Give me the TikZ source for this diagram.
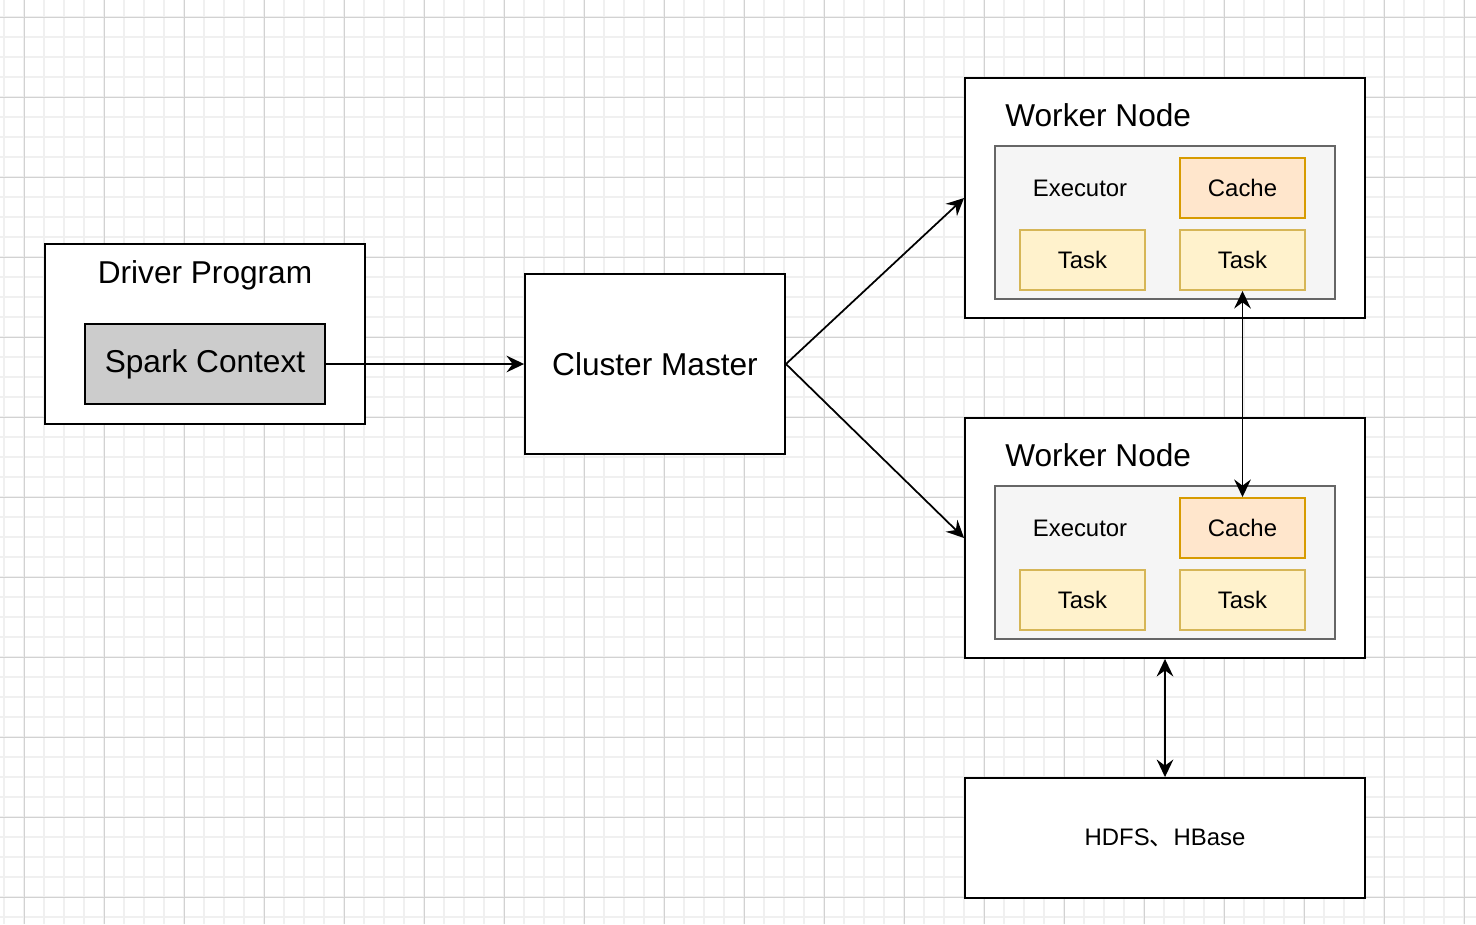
\documentclass[tikz,border=0pt]{standalone}
\usepackage{fontspec}
\setmainfont{Liberation Sans}
\newfontfamily\cjk{Noto Sans CJK SC}
\usetikzlibrary{arrows.meta, positioning}
\definecolor{gridminor}{HTML}{F0F0F0}
\definecolor{gridmajor}{HTML}{D2D2D2}
\definecolor{execfill}{HTML}{F5F5F5}
\definecolor{execline}{HTML}{666666}
\definecolor{cachefill}{HTML}{FFE6CC}
\definecolor{cacheline}{HTML}{D79B00}
\definecolor{taskfill}{HTML}{FFF2CC}
\definecolor{taskline}{HTML}{D6B656}
\definecolor{sparkfill}{HTML}{CCCCCC}
\tikzstyle{container} = [rectangle, draw = black, line width = 1.1pt, fill = white,
inner sep = 0pt, font = \fontsize{18}{21}\selectfont]
\tikzstyle{title} = [inner sep = 0pt, font = \fontsize{18}{21}\selectfont]
\tikzstyle{executor} = [rectangle, draw = execline, line width = 1.1pt, fill = execfill,
minimum width = 6.8cm, minimum height = 3.06cm]
\tikzstyle{cache} = [rectangle, draw = cacheline, line width = 1.1pt, fill = cachefill,
minimum width = 2.5cm, minimum height = 1.2cm, font = \fontsize{13.6}{16}\selectfont]
\tikzstyle{task} = [rectangle, draw = taskline, line width = 1.1pt, fill = taskfill,
minimum width = 2.5cm, minimum height = 1.2cm, font = \fontsize{13.6}{16}\selectfont]
\tikzstyle{label} = [inner sep = 0pt, font = \fontsize{13.6}{16}\selectfont]
\tikzstyle{arrow} = [line width = 1pt, -{Stealth[length = 10pt, width = 9.5pt, inset = 3.5pt]}]
\tikzstyle{twoway} = [line width = 1pt, {Stealth[length = 10pt, width = 9.5pt, inset = 3.5pt]}-{Stealth[length = 10pt, width = 9.5pt, inset = 3.5pt]}]

\begin{document}
\begin{tikzpicture}[x = 0.02cm, y = -0.02cm]

    \useasboundingbox (0,0) rectangle (1476,924);
    \fill[white] (0,0) rectangle (1476,924);
    \foreach \x in {4,24,...,1476} \draw[gridminor, line width = 0.6pt] (\x,0) -- (\x,924);
    \foreach \y in {17,37,...,924} \draw[gridminor, line width = 0.6pt] (0,\y) -- (1476,\y);
    \foreach \x in {24,104,...,1476} \draw[gridmajor, line width = 0.55pt] (\x,0) -- (\x,924);
    \foreach \y in {17,97,...,924} \draw[gridmajor, line width = 0.55pt] (0,\y) -- (1476,\y);

    \node (driver) [container, minimum width = 6.4cm, minimum height = 3.6cm] at (205,334) {};
    \node (drivertitle) [title] at (205,275.5) {Driver Program};
    \node (spark) [container, fill = sparkfill, minimum width = 4.8cm, minimum height = 1.6cm] at (205,364) {Spark Context};

    \node (master) [container, minimum width = 5.2cm, minimum height = 3.6cm] at (655,364) {Cluster Master};

    \node (worker1) [container, minimum width = 8cm, minimum height = 4.8cm] at (1165,198) {};
    \node (workertitle1) [title, anchor = west] at (1005,115) {Worker Node};
    \node (exec1) [executor] at (1165,222.5) {};
    \node (execlabel1) [label] at (1080,188) {Executor};
    \node (cache1) [cache] at (1242.5,188) {Cache};
    \node (taskA1) [task] at (1082.5,260) {Task};
    \node (taskB1) [task] at (1242.5,260) {Task};

    \node (worker2) [container, minimum width = 8cm, minimum height = 4.8cm] at (1165,538) {};
    \node (workertitle2) [title, anchor = west] at (1005,455) {Worker Node};
    \node (exec2) [executor] at (1165,562.5) {};
    \node (execlabel2) [label] at (1080,528) {Executor};
    \node (cache2) [cache] at (1242.5,528) {Cache};
    \node (taskA2) [task] at (1082.5,600) {Task};
    \node (taskB2) [task] at (1242.5,600) {Task};

    \node (hdfs) [container, minimum width = 8cm, minimum height = 2.4cm, font = \fontsize{13.6}{16}\selectfont] at (1165,838) {HDFS{\cjk 、}HBase};

    \draw[arrow] (spark) -- (master);
    \draw[arrow] (master.east) -- (worker1.west);
    \draw[arrow] (master.east) -- (worker2.west);
    \draw[twoway] (taskB1.south) -- (cache2.north);
    \draw[twoway] (worker2.south) -- (hdfs.north);

\end{tikzpicture}
\end{document}
